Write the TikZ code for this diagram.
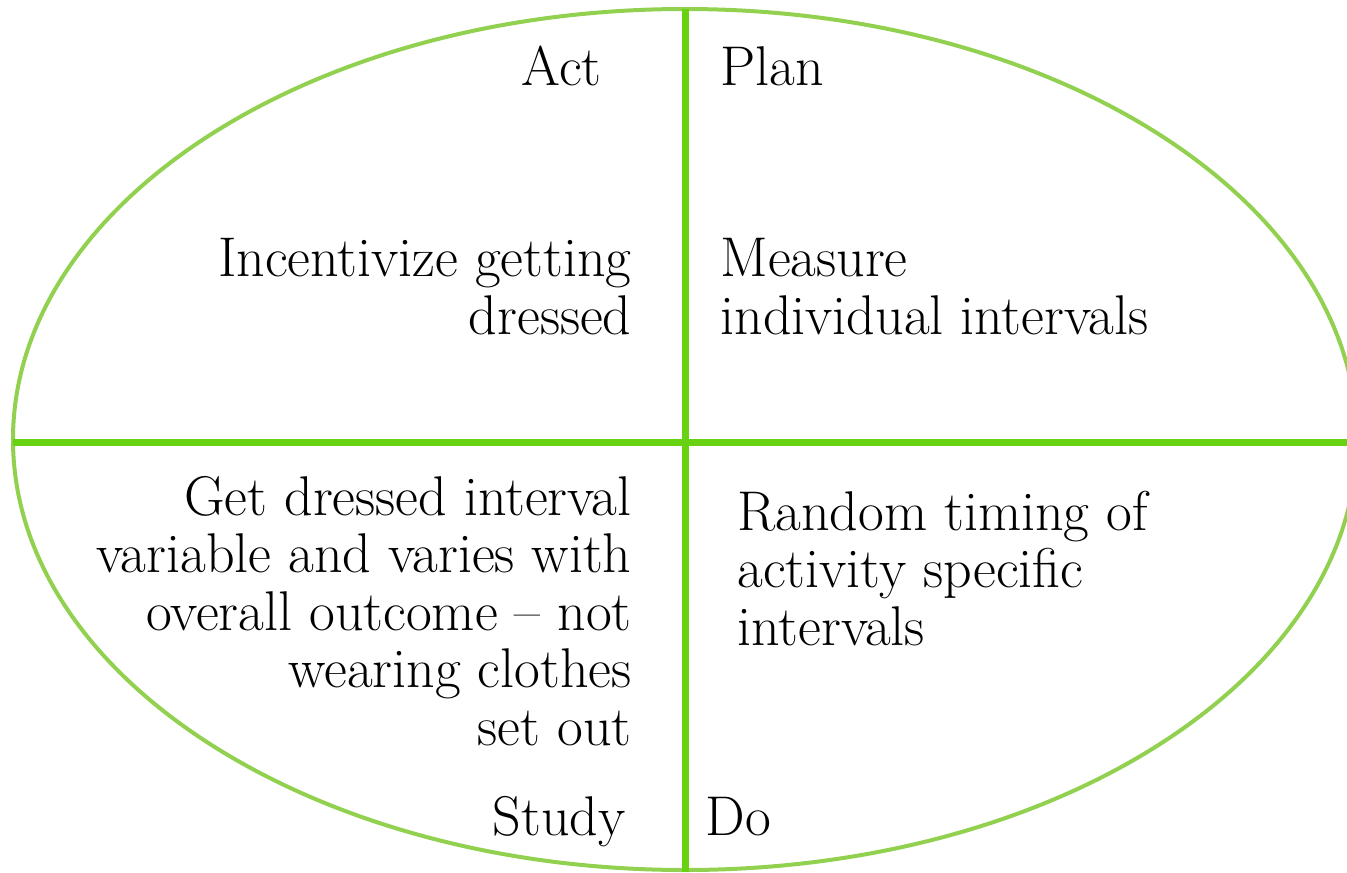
\documentclass[tikz,border=0pt]{standalone}
\usetikzlibrary{positioning}
\definecolor{pdsaring}{RGB}{146,208,80}
\definecolor{pdsacross}{RGB}{104,210,18}

\begin{document}
\begin{tikzpicture}[x=0.5pt,y=-0.5pt,
  ring/.style={draw=pdsaring,line width=2pt},
  cross/.style={draw=pdsacross,line width=3.5pt},
  txt/.style={font=\fontsize{28}{28.75}\selectfont,inner sep=0pt},
  lft/.style={txt,align=right,anchor=base east},
  rgt/.style={txt,align=left,anchor=base west}]
\useasboundingbox (0,0) rectangle (1347,872);
\clip (0,0) rectangle (1347,872);
\draw[ring] (685,439.5) ellipse [x radius=672,y radius=430.5];
\coordinate (top) at (685,9);
\coordinate (bot) at (685,872);
\coordinate (west) at (13,442);
\coordinate (east) at (1347,442);
\draw[cross] (top) -- (bot);
\draw[cross] (west) -- (east);
% quadrant headings
\node[lft] (act) at (602,85) {Act};
\node[rgt] (plan) at (720,85) {Plan};
\node[lft] (study) at (626,835) {Study};
\node[rgt] (do) at (705,835) {Do};
% quadrant contents (anchored on the last line)
\node[lft] (actbody) at (632,334) {Incentivize getting\\dressed};
\node[rgt] (planbody) at (720,334) {Measure\\individual intervals};
\node[lft] (studybody) at (632,745) {Get dressed interval\\variable and varies with\\overall outcome -- not\\wearing clothes\\set out};
\node[rgt] (dobody) at (737,645) {Random timing of\\activity specific\\intervals};
\end{tikzpicture}
\end{document}
